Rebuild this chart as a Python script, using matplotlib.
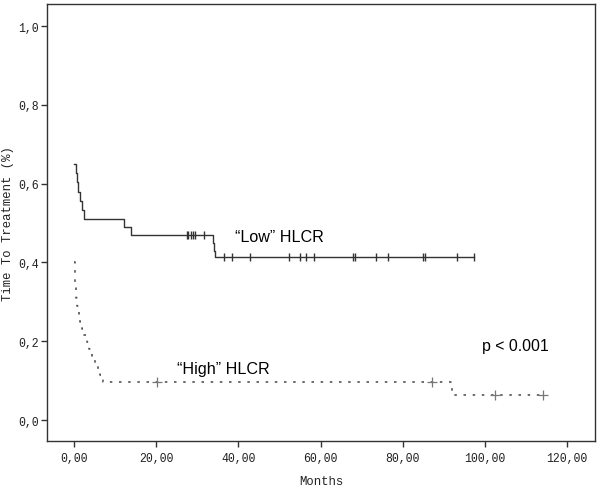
import matplotlib
matplotlib.use("Agg")
import matplotlib.pyplot as plt
import numpy as np

# "Low" HLCR group: step times (months) and survival value from that time on (last = end of curve)
low_times = [0, 0.4, 0.7, 1.05, 1.5, 1.9, 2.5, 12.2, 13.9, 33.7, 34.0, 34.3, 97.3]
low_surv = [0.65, 0.627, 0.603, 0.58, 0.557, 0.533, 0.51, 0.49, 0.47, 0.45, 0.43, 0.415, 0.415]
low_cens_t = [27.4, 27.8, 28.4, 28.9, 29.4, 31.5,
              36.6, 38.4, 42.7, 52.3, 55.0, 56.5, 58.5, 68.0, 68.4,
              73.6, 76.5, 85.0, 85.4, 93.1, 97.3]

# "High" HLCR group
high_times = [0, 0.15, 0.3, 0.5, 0.8, 1.1, 1.5, 2.0, 2.5, 3.1, 3.7, 4.3, 5.0, 5.7, 6.4, 7.1, 92.0, 114.2]
high_surv = [0.40, 0.37, 0.34, 0.31, 0.29, 0.27, 0.25, 0.232, 0.215, 0.198, 0.18, 0.163, 0.146, 0.13, 0.114, 0.097, 0.065, 0.065]
high_cens_t = [20.3, 87.2, 102.4, 114.2]

xticks = [0, 20, 40, 60, 80, 100, 120]
yticks = [0.0, 0.2, 0.4, 0.6, 0.8, 1.0]


def surv_at(times, surv, t):
    idx = np.searchsorted(times, t, side="right") - 1
    return [surv[i] for i in idx]


fig = plt.figure(figsize=(6.0, 4.89), dpi=100)
ax = fig.add_axes([0.0783, 0.0961, 0.9134, 0.8937])

mono = "Liberation Mono"
sans = "Liberation Sans"

ax.step(low_times, low_surv, where="post", color="#333333", lw=1.0)
ax.plot(low_cens_t, surv_at(low_times, low_surv, low_cens_t), linestyle="none", marker="|",
        markersize=6, color="#333333", mew=1.0)

ax.step(high_times, high_surv, where="post", color="#555555", lw=1.2,
        linestyle=(0, (1.5, 4)))
ax.plot(high_cens_t, surv_at(high_times, high_surv, high_cens_t), linestyle="none",
        marker="+", markersize=6.5, color="#777777", mew=0.9)

ax.text(39.2, 0.467, "\u201cLow\u201d HLCR", fontsize=11.6, family=sans, va="center", ha="left")
ax.text(25.0, 0.13, "\u201cHigh\u201d HLCR", fontsize=11.6, family=sans, va="center", ha="left")
ax.text(99.2, 0.189, "p < 0.001", fontsize=11.4, family=sans, va="center", ha="left")

ax.set_xlim(-6.6, 126.8)
ax.set_ylim(-0.053, 1.056)
ax.set_xticks(xticks)
ax.set_xticklabels([f"{v:.2f}".replace(".", ",") for v in xticks], family=mono, fontsize=8.3, color="#222222")
ax.set_yticks(yticks)
ax.set_yticklabels([f"{v:.1f}".replace(".", ",") for v in yticks], family=mono, fontsize=8.3, color="#222222")
ax.tick_params(direction="out", length=4, width=1, color="#333333", pad=2)
ax.tick_params(axis="x", pad=4)
for sp in ax.spines.values():
    sp.set_linewidth(1.0)
    sp.set_color("#333333")

ax.set_xlabel("Months", family=mono, fontsize=8.8, labelpad=8, color="#222222")
ax.set_ylabel("Time To Treatment (%)", family=mono, fontsize=8.8, labelpad=3, color="#222222")

fig.savefig("out.png", dpi=100)
